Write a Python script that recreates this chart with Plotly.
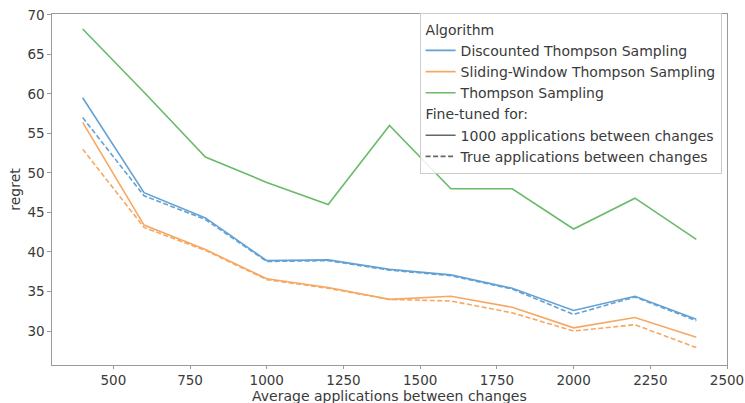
import plotly.graph_objects as go

# x values: average applications between changes
x_vals = [400, 600, 800, 1000, 1200, 1400, 1600, 1800, 2000, 2200, 2400]

# Discounted Thompson Sampling
dts_1000 = [59.5, 47.5, 44.3, 38.9, 39.0, 37.8, 37.1, 35.4, 32.6, 34.4, 31.5]
dts_true = [57.0, 47.1, 44.1, 38.8, 38.9, 37.7, 37.0, 35.3, 32.1, 34.3, 31.3]

# Sliding-Window Thompson Sampling
sw_1000 = [56.4, 43.4, 40.3, 36.6, 35.5, 34.0, 34.4, 33.0, 30.4, 31.7, 29.2]
sw_true = [53.0, 43.1, 40.2, 36.5, 35.4, 34.0, 33.8, 32.3, 30.0, 30.8, 27.9]

# Thompson Sampling (not tuned)
ts_1000 = [68.2, 60.2, 52.0, 48.8, 46.0, 56.0, 48.0, 48.0, 42.9, 46.8, 41.6]

algorithms = ["Discounted Thompson Sampling", "Sliding-Window Thompson Sampling", "Thompson Sampling"]
tuning_labels = ["1000 applications between changes", "True applications between changes"]
x_ticks = [500, 750, 1000, 1250, 1500, 1750, 2000, 2250, 2500]
y_ticks = [30, 35, 40, 45, 50, 55, 60, 65, 70]
x_title = "Average applications between changes"
y_title = "regret"

colors = ["#64a1d3", "#f6a862", "#69ba69"]
dash_style = "5px,2.5px"
lw = 1.6

fig = go.Figure()

series = [
    (dts_1000, colors[0], "solid"),
    (dts_true, colors[0], dash_style),
    (sw_1000, colors[1], "solid"),
    (sw_true, colors[1], dash_style),
    (ts_1000, colors[2], "solid"),
]
for ys, c, d in series:
    fig.add_trace(go.Scatter(x=x_vals, y=ys, mode="lines",
                             line=dict(color=c, width=lw, dash=d),
                             showlegend=False, hoverinfo="skip"))

# Legend entries (dummy traces)
for i, name in enumerate(algorithms):
    fig.add_trace(go.Scatter(x=[None], y=[None], mode="lines", name=name,
                             line=dict(color=colors[i], width=lw),
                             legendgroup="alg",
                             legendgrouptitle_text="Algorithm" if i == 0 else None))
for j, name in enumerate(tuning_labels):
    fig.add_trace(go.Scatter(x=[None], y=[None], mode="lines", name=name,
                             line=dict(color="#666666", width=lw,
                                       dash="solid" if j == 0 else dash_style),
                             legendgroup="tune",
                             legendgrouptitle_text="Fine-tuned for:" if j == 0 else None))

font_col = "#3a3a3a"
axis_col = "#9a9a9a"
fs = 14
tfs = 13.5

fig.update_layout(
    width=745, height=403,
    margin=dict(l=52, r=18, t=14, b=38, autoexpand=False),
    paper_bgcolor="white", plot_bgcolor="white",
    font=dict(family="DejaVu Sans", size=fs, color=font_col),
    legend=dict(x=0.992, y=1.004, xanchor="right", yanchor="top",
                bgcolor="rgba(255,255,255,0.85)", bordercolor="#cccccc", borderwidth=1,
                tracegroupgap=0, font=dict(size=fs, color=font_col),
                grouptitlefont=dict(size=fs, color=font_col)),
    xaxis=dict(range=[300, 2500], tickvals=x_ticks, ticktext=[str(v) for v in x_ticks],
               showgrid=False, zeroline=False, showline=True, mirror=True,
               linecolor=axis_col, linewidth=1.2, ticks="outside", ticklen=3,
               tickcolor=axis_col, tickfont=dict(size=tfs, color=font_col),
               automargin=False),
    yaxis=dict(range=[25.7, 70.1], tickvals=y_ticks, ticktext=[str(v) for v in y_ticks],
               showgrid=False, zeroline=False, showline=True, mirror=True,
               linecolor=axis_col, linewidth=1.2, ticks="outside", ticklen=3.5,
               tickcolor=axis_col, tickfont=dict(size=tfs, color=font_col),
               automargin=False,
               title=dict(text=y_title, standoff=3,
                          font=dict(size=fs, color=font_col))),
    annotations=[dict(text=x_title, xref="paper", yref="paper", x=0.5, y=-0.088,
                      xanchor="center", yanchor="middle", showarrow=False,
                      font=dict(size=fs, color=font_col))],
)

fig.write_html("out.html",
               config={"displayModeBar": False},
               post_script="document.body.style.margin='0';document.body.style.padding='0';")
